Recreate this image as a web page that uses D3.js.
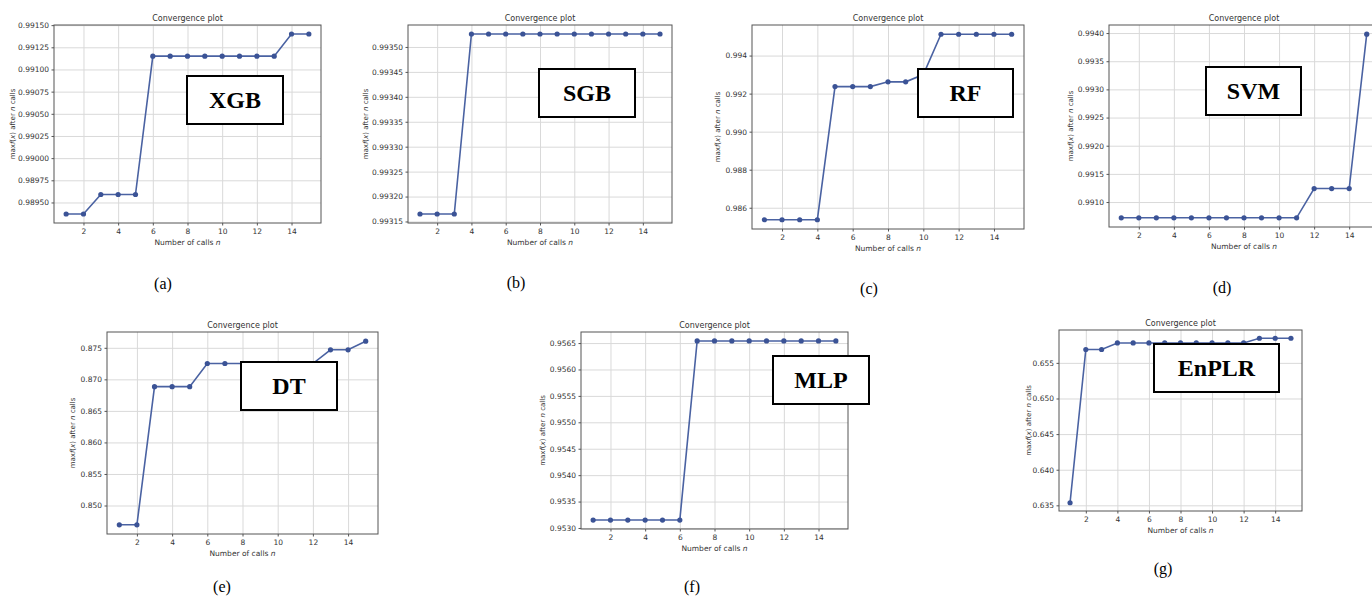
<!DOCTYPE html>
<html>
<head>
<meta charset="utf-8">
<script src="https://cdn.jsdelivr.net/npm/d3@7"></script>
<style>
  body { margin: 0; background: #fff; }
  svg { display: block; }
  .tick text { font-family: "DejaVu Sans", sans-serif; fill: #333; }
</style>
</head>
<body>
<div id="chart"></div>
<script>
// calls on the x axis
const calls = [1, 2, 3, 4, 5, 6, 7, 8, 9, 10, 11, 12, 13, 14, 15];
const xTicks = [2, 4, 6, 8, 10, 12, 14];

// best score after n calls, one array per model
const xgbBest = [0.98937, 0.98937, 0.98959, 0.98959, 0.98959, 0.99115, 0.99115, 0.99115, 0.99115, 0.99115, 0.99115, 0.99115, 0.99115, 0.99140, 0.99140];
const sgbBest = [0.993165, 0.993165, 0.993165, 0.993526, 0.993526, 0.993526, 0.993526, 0.993526, 0.993526, 0.993526, 0.993526, 0.993526, 0.993526, 0.993526, 0.993526];
const rfBest = [0.98537, 0.98537, 0.98537, 0.98537, 0.99237, 0.99237, 0.99237, 0.99262, 0.99262, 0.99300, 0.99512, 0.99512, 0.99512, 0.99512, 0.99512];
const svmBest = [0.99072, 0.99072, 0.99072, 0.99072, 0.99072, 0.99072, 0.99072, 0.99072, 0.99072, 0.99072, 0.99072, 0.99124, 0.99124, 0.99124, 0.99398];
const dtBest = [0.84694, 0.84694, 0.86884, 0.86884, 0.86884, 0.87251, 0.87251, 0.87251, 0.87251, 0.87251, 0.87251, 0.87251, 0.87468, 0.87468, 0.87605];
const mlpBest = [0.95315, 0.95315, 0.95315, 0.95315, 0.95315, 0.95315, 0.95654, 0.95654, 0.95654, 0.95654, 0.95654, 0.95654, 0.95654, 0.95654, 0.95654];
const enplrBest = [0.63536, 0.65688, 0.65688, 0.65780, 0.65780, 0.65780, 0.65780, 0.65780, 0.65780, 0.65780, 0.65780, 0.65780, 0.65846, 0.65846, 0.65846];

// y tick values for each panel
const xgbTicks = [0.98950, 0.98975, 0.99000, 0.99025, 0.99050, 0.99075, 0.99100, 0.99125, 0.99150];
const sgbTicks = [0.99315, 0.99320, 0.99325, 0.99330, 0.99335, 0.99340, 0.99345, 0.99350];
const rfTicks = [0.986, 0.988, 0.990, 0.992, 0.994];
const svmTicks = [0.9910, 0.9915, 0.9920, 0.9925, 0.9930, 0.9935, 0.9940];
const dtTicks = [0.850, 0.855, 0.860, 0.865, 0.870, 0.875];
const mlpTicks = [0.9530, 0.9535, 0.9540, 0.9545, 0.9550, 0.9555, 0.9560, 0.9565];
const enplrTicks = [0.635, 0.640, 0.645, 0.650, 0.655];

const models = ["XGB", "SGB", "RF", "SVM", "DT", "MLP", "EnPLR"];
const captions = ["(a)", "(b)", "(c)", "(d)", "(e)", "(f)", "(g)"];

const panels = [
  { name: models[0], cap: captions[0], values: xgbBest, ticks: xgbTicks, dec: 5 },
  { name: models[1], cap: captions[1], values: sgbBest, ticks: sgbTicks, dec: 5 },
  { name: models[2], cap: captions[2], values: rfBest, ticks: rfTicks, dec: 3 },
  { name: models[3], cap: captions[3], values: svmBest, ticks: svmTicks, dec: 4 },
  { name: models[4], cap: captions[4], values: dtBest, ticks: dtTicks, dec: 3 },
  { name: models[5], cap: captions[5], values: mlpBest, ticks: mlpTicks, dec: 4 },
  { name: models[6], cap: captions[6], values: enplrBest, ticks: enplrTicks, dec: 3 }
];

// where each panel sits on the page: frame, label box, caption, y label offset
const layout = [
  { l: 54, t: 25, r: 321, b: 223, box: [187, 76, 283, 124], cap: [163, 283], yl: 42 },
  { l: 408, t: 25, r: 672, b: 223, box: [539, 69, 635, 117], cap: [516, 282], yl: 43 },
  { l: 752, t: 25, r: 1024, b: 229, box: [918, 69, 1013, 117], cap: [869, 288], yl: 35 },
  { l: 1109, t: 25, r: 1379, b: 227, box: [1206, 67, 1301, 115], cap: [1222, 287], yl: 39 },
  { l: 107, t: 332, r: 378, b: 534, box: [241, 362, 337, 410], cap: [222, 586.5], yl: 35 },
  { l: 581, t: 332, r: 848, b: 529, box: [773, 356, 869, 404], cap: [692, 586], yl: 39 },
  { l: 1059, t: 330, r: 1302, b: 511, box: [1154, 344, 1279, 392], cap: [1163, 568], yl: 31 }
];

const lineColor = "#4a62a2", dotColor = "#3b5396";

const svg = d3.select("#chart").append("svg")
  .attr("width", 1372)
  .attr("height", 597);

// matplotlib style: 5% margin on both sides
function padded(ext) {
  const m = (ext[1] - ext[0]) * 0.05;
  return [ext[0] - m, ext[1] + m];
}

panels.forEach((p, i) => {
  const L = layout[i];
  const w = L.r - L.l, h = L.b - L.t;

  const x = d3.scaleLinear().domain(padded(d3.extent(calls))).range([0, w]);
  const y = d3.scaleLinear().domain(padded(d3.extent(p.values))).range([h, 0]);

  const g = svg.append("g").attr("transform", `translate(${L.l},${L.t})`);

  // grid
  g.append("g")
    .attr("transform", `translate(0,${h})`)
    .call(d3.axisBottom(x).tickValues(xTicks).tickSize(-h).tickFormat(""))
    .call(a => a.select(".domain").remove())
    .call(a => a.selectAll("line").attr("stroke", "#d9d9d9").attr("stroke-width", 1));
  g.append("g")
    .call(d3.axisLeft(y).tickValues(p.ticks).tickSize(-w).tickFormat(""))
    .call(a => a.select(".domain").remove())
    .call(a => a.selectAll("line").attr("stroke", "#d9d9d9").attr("stroke-width", 1));

  // axes
  g.append("g")
    .attr("transform", `translate(0,${h})`)
    .call(d3.axisBottom(x).tickValues(xTicks).tickSize(2.5).tickPadding(3))
    .call(a => a.select(".domain").remove())
    .call(a => a.selectAll("line").attr("stroke", "#555"))
    .call(a => a.selectAll("text").attr("font-size", "7.5px"));
  g.append("g")
    .call(d3.axisLeft(y).tickValues(p.ticks).tickSize(2.5).tickPadding(2.5).tickFormat(d3.format(`.${p.dec}f`)))
    .call(a => a.select(".domain").remove())
    .call(a => a.selectAll("line").attr("stroke", "#555"))
    .call(a => a.selectAll("text").attr("font-size", "7.5px"));

  // frame
  g.append("rect")
    .attr("width", w).attr("height", h)
    .attr("fill", "none").attr("stroke", "#555").attr("stroke-width", 1);

  // convergence line and points
  const pts = calls.map((c, k) => [c, p.values[k]]);
  g.append("path")
    .datum(pts)
    .attr("fill", "none")
    .attr("stroke", lineColor)
    .attr("stroke-width", 1.6)
    .attr("d", d3.line().x(d => x(d[0])).y(d => y(d[1])));
  g.selectAll(".dot")
    .data(pts)
    .enter().append("circle")
    .attr("cx", d => x(d[0]))
    .attr("cy", d => y(d[1]))
    .attr("r", 2.6)
    .attr("fill", dotColor);

  // title and axis labels
  g.append("text")
    .attr("x", w / 2).attr("y", -4.5)
    .attr("text-anchor", "middle")
    .attr("font-family", "DejaVu Sans, sans-serif")
    .attr("font-size", "8px")
    .attr("fill", "#333")
    .text("Convergence plot");

  const xl = g.append("text")
    .attr("x", w / 2).attr("y", h + 21.5)
    .attr("text-anchor", "middle")
    .attr("font-family", "DejaVu Sans, sans-serif")
    .attr("font-size", "7.5px")
    .attr("fill", "#333");
  xl.append("tspan").text("Number of calls ");
  xl.append("tspan").attr("font-style", "italic").text("n");

  const yl = g.append("text")
    .attr("transform", `translate(${-L.yl + 2.5},${h / 2}) rotate(-90)`)
    .attr("text-anchor", "middle")
    .attr("font-family", "DejaVu Sans, sans-serif")
    .attr("font-size", "7px")
    .attr("fill", "#333");
  yl.append("tspan").text("max");
  yl.append("tspan").attr("font-style", "italic").text("f");
  yl.append("tspan").text("(");
  yl.append("tspan").attr("font-style", "italic").text("x");
  yl.append("tspan").text(") after ");
  yl.append("tspan").attr("font-style", "italic").text("n");
  yl.append("tspan").text(" calls");

  // model name box
  const [bx0, by0, bx1, by1] = L.box;
  svg.append("rect")
    .attr("x", bx0).attr("y", by0)
    .attr("width", bx1 - bx0).attr("height", by1 - by0)
    .attr("fill", "#fff").attr("stroke", "#000").attr("stroke-width", 2);
  svg.append("text")
    .attr("x", (bx0 + bx1) / 2).attr("y", (by0 + by1) / 2 + 8)
    .attr("text-anchor", "middle")
    .attr("font-family", "Liberation Serif, Times New Roman, serif")
    .attr("font-weight", "bold")
    .attr("font-size", "24px")
    .attr("fill", "#000")
    .text(p.name);

  // caption under the panel
  svg.append("text")
    .attr("x", L.cap[0]).attr("y", L.cap[1] + 5.5)
    .attr("text-anchor", "middle")
    .attr("font-family", "Liberation Serif, Times New Roman, serif")
    .attr("font-size", "16px")
    .attr("fill", "#000")
    .text(p.cap);
});
</script>
</body>
</html>
